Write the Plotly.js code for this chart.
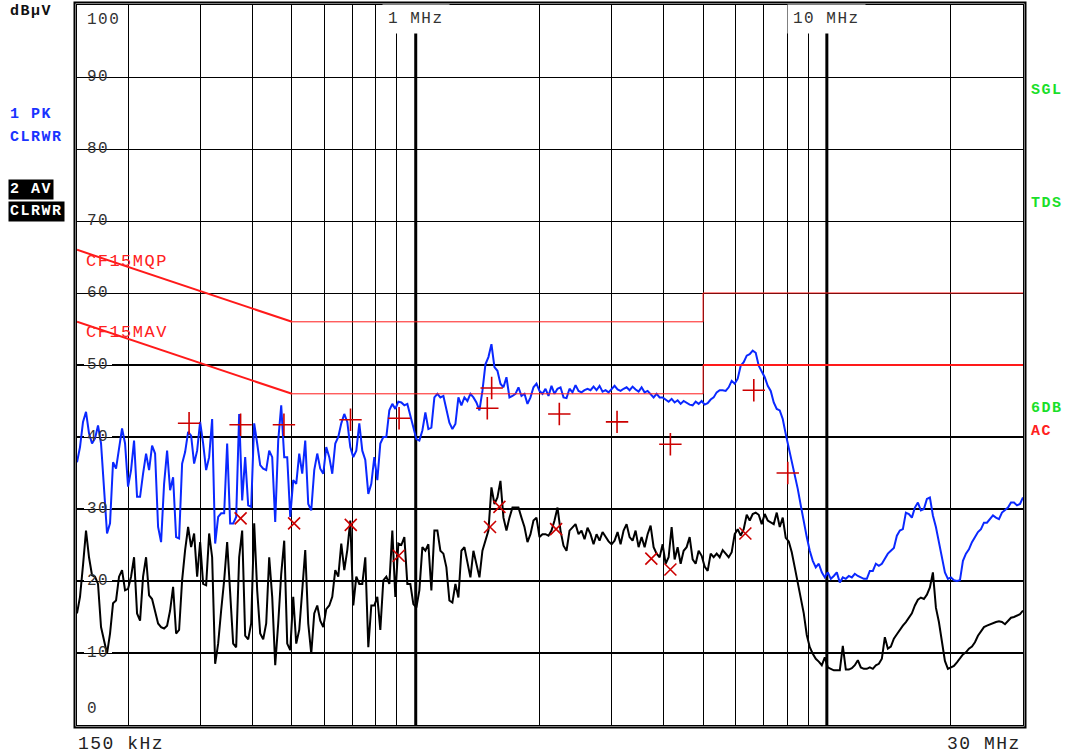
<!DOCTYPE html>
<html><head><meta charset="utf-8">
<script src="https://cdn.plot.ly/plotly-3.0.1.min.js"></script>
<style>
html,body{margin:0;padding:0;background:#fff;}
#chart{width:1069px;height:756px;}
.annotation-text{letter-spacing:1.5px;}
</style></head><body><div id="chart"></div>
<script>
// ---- data (frequency in MHz, level in dBµV) ----
const sweepStartMHz = 0.15, sweepStopMHz = 30;
const peakDb = [
36.5,38.6,42.1,43.5,40.5,39.1,39.8,41.6,39.1,32.6,26.6,28,36.5,35.6,38.6,41.2,39.1,33.1,35.4,39.5,31.7,31.7,34.9,37.7,35.4,38.8,37.7,27.5,25.4,33.5,38.1,32.6,34.4,26.1,25.9,36.3,37.9,40.7,40.2,36.3,38.1,42.1,39.1,35.4,37.2,42.5,25.2,28.9,29.4,29.4,39.1,28,28,28.9,43.2,
31.2,37.2,30.5,30.3,41.9,39.1,36.1,35.6,35.4,38.1,37.2,28.2,39.5,44.4,37.2,37.2,28.9,34,33.5,37.7,34.9,39.5,30.7,29.8,35.4,37.7,35.6,34.9,38.6,37.2,34.9,39.1,40,41.9,43.2,42.1,38.6,37.2,38.1,41.9,38.1,36.8,32.1,33.5,37.2,34,39.1,40,40,43.7,44.6,43.9,44.9,44.8,
44.4,44.6,43,41.3,39.7,39.5,40.9,43.4,41.1,41.3,45.5,46,45.5,45.7,43.9,42,41.1,41.8,45.5,44.4,45.5,45,46,45.5,44.8,43.7,46.4,50.1,51.1,52.9,49.7,49.2,47.4,46.9,48.3,45.5,45.7,46,46.9,45.7,46,44.6,45.5,46.9,47.4,46.4,46,46.7,45.7,47.1,46,46.7,46.9,45.5,
45.4,46.7,46.2,47.2,46.4,46.2,46.5,46.7,46.5,47,46.5,47.1,46.3,46.5,46.2,46.7,47.1,46.6,46.4,46.7,46.9,46.5,47,46.6,46.3,46.9,46.2,46.4,45.9,45.5,46,45.5,45.5,45.2,44.9,45.3,44.8,45.1,44.6,45,44.7,44.5,44.4,44.9,44.6,45,44.5,44.7,45.2,45.5,46.2,46.5,46.5,
46.4,46.9,47.8,47.4,48.1,49.9,50.4,51.3,51.5,52,51.7,49.9,49.2,48.3,47.1,46.4,44.8,43.9,43.7,42.5,40.4,38.6,36.7,34.9,32.8,30.5,28.1,26.1,24.2,22.8,21.9,22.4,21.2,20.5,21.2,20.3,20.7,21.2,19.8,20.5,20.3,20.7,20.5,21,20.7,20.5,20.3,20.3,21.4,21.4,22.4,22.1,22.4,
23.1,23.8,24.2,24.6,26.3,27,27.2,29.5,29.3,28.8,30.2,30.9,29.8,30,31.4,31.6,29.1,27.5,25.4,23.1,21.2,20.3,20.5,20.1,20,20.1,22.8,23.8,24.4,25.4,26.1,26.8,27.2,28.1,28.1,28.6,29.1,28.8,28.6,29.5,29.8,30.2,30.9,30.9,30.5,30.7,31.6
];
const avgDb = [
15.5,17.8,22.2,27,23.3,20.8,20.6,19.6,13.6,11.5,9.9,12.7,16.9,17.3,20.6,21.5,18.7,18.9,20.6,23.3,15.5,14.5,20.6,23.3,18,17.5,15.9,14.1,13.6,13.4,13.8,15.9,19.2,12.7,13.2,20.1,24.3,27.5,24.7,26.6,20.6,25.4,19.6,19.4,26.6,23.3,8.5,11.3,15.9,20.1,25.4,17.8,11.3,10.8,23.3,
27,12.4,11.9,14.1,28,18.7,12.7,11.9,14.1,23.3,17.8,8.3,14.1,21,25.6,11.3,10.4,17.8,11.3,13.2,18.7,24.3,14.1,9.9,15.5,16.6,14.5,13.6,16.1,16.6,17.8,21.5,20.6,25.2,21.5,24.3,28.4,16.6,20.6,19.6,19.6,23.3,10.8,16.6,16.6,17.8,13.2,20.1,20.6,19.6,27,17.8,25.2,25,
26.1,19.6,19.6,16.8,16.3,18.7,24.7,24.2,25.1,18.7,27,27,24.2,23.8,21.9,17.3,17,19.6,17.7,24.2,24.7,22.8,20.5,24.2,22.4,20.5,24.2,25.6,27,33,30.7,31.6,33.9,28.8,27,28.8,30.2,30.2,30.2,28.8,27.5,25.4,26.5,28.4,28.8,26.1,26.5,26.5,26.3,27,28.4,30.2,27,24.9,
24.2,27,27.4,27.9,26.5,27,25.8,27.4,26.5,25.1,26.5,25.6,26.8,26.1,25.5,25.1,25.6,26.8,25.1,27,27.9,26.1,25.6,27,24.7,26.1,24.7,26.5,27.7,24.7,23.8,23.3,25.1,22.4,23.3,27.5,23,24.7,22.4,24.2,24.7,26.1,23,22.4,24.2,23.5,22,21.4,23.8,23.3,23.8,23.3,24.3,
23.8,23.3,24,26.5,27.2,26.3,27.2,29.2,28.4,29.3,29.5,29.2,27.9,29.3,28.4,28.1,27.9,29.5,27.5,28.8,26,25.5,24,21.9,19.8,17.6,15.5,12.5,10.8,9.9,9.2,8.8,8.3,9.4,8,7.8,7.6,7.6,7.6,11,7.7,7.7,7.9,8.3,9,8,7.8,7.8,8,7.8,8.3,8.5,9.2,
12.2,10.6,10.9,12,12.6,13.3,13.8,14.3,15,15.5,16.6,17.4,17.7,17.5,18.1,19.1,21.2,16.3,14.3,11.7,8.9,7.8,8,8.2,8.7,9.2,9.8,10.1,10.6,10.9,11.5,12.4,13.1,13.6,13.8,14,14.1,14.3,14.4,14.3,14,14.4,14.9,15,15.2,15.4,15.9
];
const qpFreqMHz = [0.281,0.375,0.478,0.694,0.911,1.493,1.530,2.235,3.088,4.163,6.642,8.034];
const qpDb      = [41.9,41.7,41.7,42.4,42.6,44.0,46.8,43.2,42.1,39.0,46.5,35.0];
const avFreqMHz = [0.375,0.506,0.695,0.909,1.516,1.598,2.195,3.742,4.163,6.336];
const avDb      = [28.7,28.0,27.8,23.5,27.5,30.3,27.2,23.1,21.6,26.6];
const limitFreqMHz = [0.15,0.5,5,5,30];
const qpLimitDb = [66,56,56,60,60];
const avLimitDb = [56,46,46,50,50];
const gridFreqMHz = [0.2,0.3,0.4,0.5,0.6,0.7,0.8,0.9,1,2,3,4,5,6,7,8,9,10,20];
const gridDb = [10,20,30,40,50,60,70,80,90];
const boldGridDb = [10,20,30,40,50];
const decadeFreqMHz = [1,10];
const decadeLabels = ['1 MHz','10 MHz'];
const startLabel = '150 kHz', stopLabel = '30 MHz';

// ---- sweep grid (log spaced receiver sweep points) ----
const N = peakDb.length;
const freqMHz = peakDb.map((_, i) => sweepStartMHz * Math.pow(sweepStopMHz / sweepStartMHz, i / (N - 1)));

// ---- geometry helpers ----
const W = 1069, H = 756, ML = 77, MR = 46, MT = 5, MB = 31;
const PW = W - ML - MR, PH = H - MT - MB;
const px = x => (x - ML) / PW;
const py = y => (H - MB - y) / PH;
const MONO = 'Liberation Mono, Courier New, monospace';
const RED = '#ff1a1a';

const seg = (arr, a, b) => arr.slice(a, b);
const traces = [
  {x: freqMHz, y: peakDb, type: 'scatter', mode: 'lines', line: {color: '#0a28ff', width: 2}},
  {x: freqMHz, y: avgDb, type: 'scatter', mode: 'lines', line: {color: '#000000', width: 2}},
  // limit lines: sloped parts thicker, flat parts thin, AV upper segment thick
  {x: seg(limitFreqMHz, 0, 2), y: seg(qpLimitDb, 0, 2), type: 'scatter', mode: 'lines', line: {color: RED, width: 2}},
  {x: seg(limitFreqMHz, 1, 5), y: seg(qpLimitDb, 1, 5), type: 'scatter', mode: 'lines', line: {color: RED, width: 1}},
  {x: seg(limitFreqMHz, 0, 2), y: seg(avLimitDb, 0, 2), type: 'scatter', mode: 'lines', line: {color: RED, width: 2}},
  {x: seg(limitFreqMHz, 1, 4), y: seg(avLimitDb, 1, 4), type: 'scatter', mode: 'lines', line: {color: RED, width: 1}},
  {x: seg(limitFreqMHz, 3, 5), y: seg(avLimitDb, 3, 5), type: 'scatter', mode: 'lines', line: {color: RED, width: 2.2}},
  {x: qpFreqMHz, y: qpDb, type: 'scatter', mode: 'markers', marker: {symbol: 'cross-thin', size: 16, line: {color: '#cc0000', width: 1.6}}},
  {x: avFreqMHz, y: avDb, type: 'scatter', mode: 'markers', marker: {symbol: 'x-thin', size: 12, line: {color: '#cc0000', width: 1.6}}}
];

const shapes = [];
boldGridDb.forEach(v => shapes.push({type: 'line', layer: 'between', xref: 'paper', x0: 0, x1: 1, yref: 'y', y0: v, y1: v, line: {color: '#000', width: 2}}));
decadeFreqMHz.forEach(f => shapes.push({type: 'line', layer: 'between', xref: 'x', x0: f, x1: f, yref: 'paper', y0: 0, y1: 1, line: {color: '#000', width: 3}}));
// white gaps behind y labels
gridDb.forEach(v => shapes.push({type: 'rect', layer: 'between', xref: 'paper', x0: px(84), x1: px(112), yref: 'y', y0: v - 1.1, y1: v + 1.1, fillcolor: '#fff', line: {width: 0}}));
// outer frame (double border)
shapes.push({type: 'rect', layer: 'above', xref: 'paper', yref: 'paper', x0: px(74.5), x1: px(1025.5), y0: py(727.5), y1: py(2.5), line: {color: '#000', width: 2}});

const ann = [];
function label(text, x, y, o) {
  ann.push(Object.assign({text, x, y, xref: 'paper', yref: 'paper', showarrow: false, xanchor: 'left', yanchor: 'middle', borderpad: 1}, o));
}
gridDb.forEach(v => ann.push({text: String(v), xref: 'paper', x: px(85), yref: 'y', y: v, xanchor: 'left', yanchor: 'middle', showarrow: false, font: {family: MONO, size: 16, color: '#333'}}));
label('100', px(85), py(20), {font: {family: MONO, size: 16, color: '#333'}});
label('0', px(85), py(709), {font: {family: MONO, size: 16, color: '#333'}});
decadeFreqMHz.forEach((f, i) => ann.push({text: decadeLabels[i], xref: 'x', x: Math.log10(f), yref: 'paper', y: py(19), xanchor: 'center', yanchor: 'middle', showarrow: false, bgcolor: '#fff', borderpad: 5, font: {family: MONO, size: 16, color: '#333'}}));
label(startLabel, px(76), py(744), {font: {family: MONO, size: 18, color: '#222'}});
label(stopLabel, px(1023), py(744), {xanchor: 'right', font: {family: MONO, size: 18, color: '#222'}});
label('CF15MQP', px(84), py(261), {font: {family: MONO, size: 17, color: '#ff2020'}});
label('CF15MAV', px(84), py(332), {font: {family: MONO, size: 17, color: '#ff2020'}});
const boldFont = c => ({family: MONO, size: 15, color: c, weight: 'bold'});
label('<b>dBµV</b>', px(8), py(12), {font: boldFont('#111')});
label('<b>1 PK</b>', px(8), py(114), {font: boldFont('#1a33ff')});
label('<b>CLRWR</b>', px(8), py(137), {font: boldFont('#1a33ff')});
label('<b>2 AV</b>', px(8), py(189), {font: boldFont('#fff'), bgcolor: '#000'});
label('<b>CLRWR</b>', px(8), py(212), {font: boldFont('#fff'), bgcolor: '#000'});
label('<b>SGL</b>', px(1029), py(90), {font: boldFont('#1adf2a')});
label('<b>TDS</b>', px(1029), py(203), {font: boldFont('#1adf2a')});
label('<b>6DB</b>', px(1029), py(408), {font: boldFont('#1adf2a')});
label('<b>AC</b>', px(1029), py(431), {font: boldFont('#ff2020')});

const layout = {
  width: W, height: H, margin: {l: ML, r: MR, t: MT, b: MB},
  paper_bgcolor: '#fff', plot_bgcolor: '#fff', showlegend: false,
  xaxis: {type: 'log', range: [Math.log10(sweepStartMHz), Math.log10(sweepStopMHz)], tickvals: gridFreqMHz,
          showticklabels: false, ticks: '', showgrid: true, gridcolor: '#000', gridwidth: 1,
          showline: true, mirror: true, linecolor: '#000', linewidth: 1, zeroline: false},
  yaxis: {range: [0, 100], tickvals: gridDb, showticklabels: false, ticks: '', showgrid: true,
          gridcolor: '#000', gridwidth: 1, showline: true, mirror: true, linecolor: '#000', linewidth: 1, zeroline: false},
  shapes, annotations: ann
};
Plotly.newPlot('chart', traces, layout, {staticPlot: true, displayModeBar: false});
</script></body></html>
